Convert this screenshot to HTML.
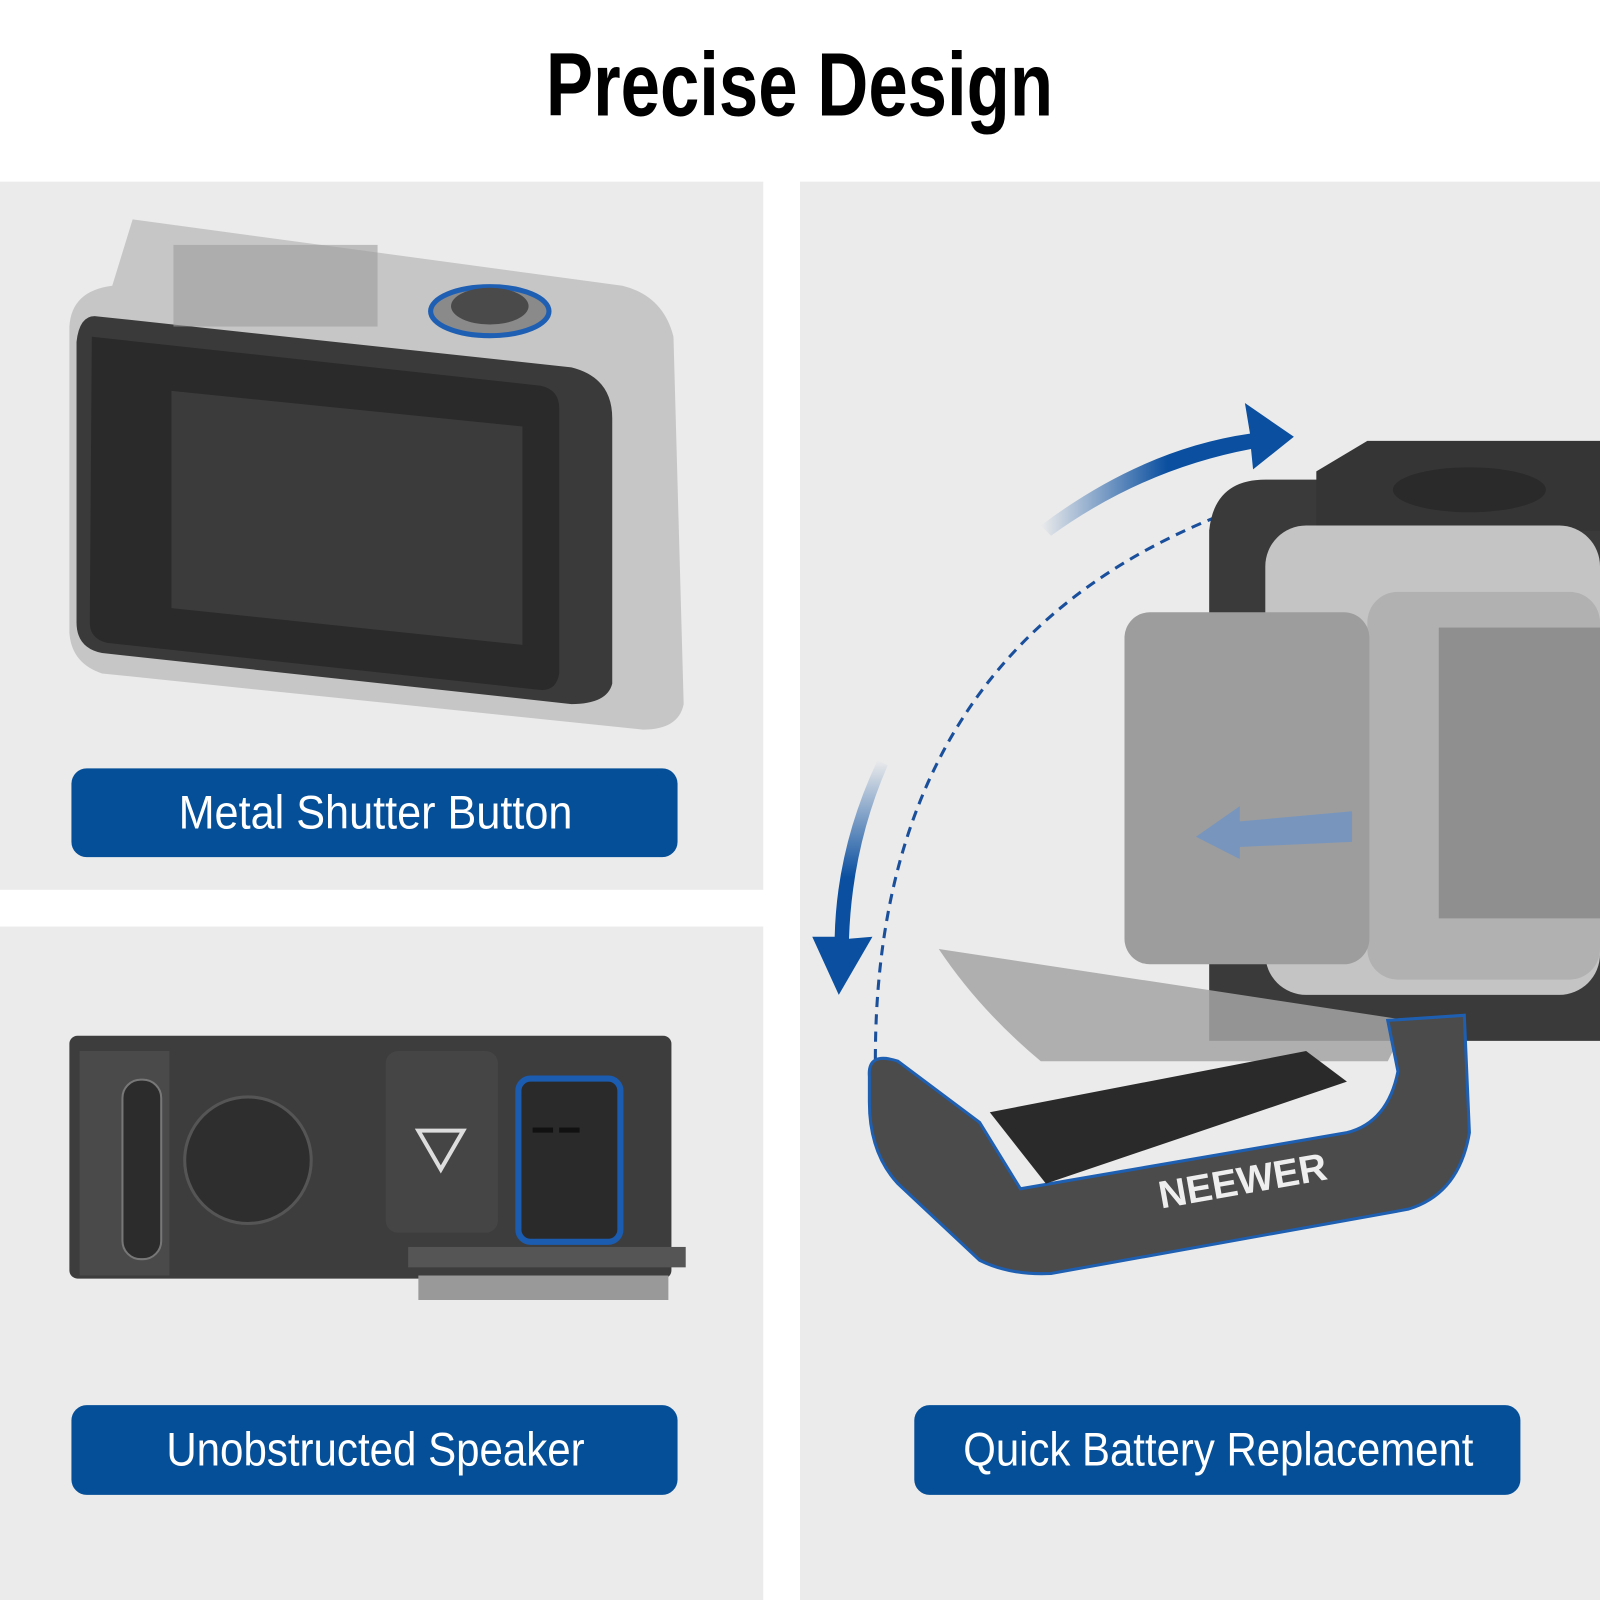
<!DOCTYPE html>
<html><head><meta charset="utf-8"><style>
html,body{margin:0;padding:0;background:#fff;}
svg{display:block;}
text{font-family:"Liberation Sans Narrow","Liberation Sans",sans-serif;}
</style></head><body>
<svg width="1600" height="1600" viewBox="0 0 1568 1568" xmlns="http://www.w3.org/2000/svg">
<defs>
<linearGradient id="ar" x1="0" y1="0" x2="1" y2="0"><stop offset="0" stop-color="#0a4fa0" stop-opacity="0"/><stop offset="0.5" stop-color="#0a4fa0"/></linearGradient>
<linearGradient id="ar2" x1="0" y1="0" x2="0" y2="1"><stop offset="0" stop-color="#0a4fa0" stop-opacity="0"/><stop offset="0.5" stop-color="#0a4fa0"/></linearGradient>
</defs>
<rect width="1568" height="1568" fill="#fff"/>
<text x="535" y="113" font-size="88" font-weight="bold" fill="#000" textLength="497" lengthAdjust="spacingAndGlyphs">Precise Design</text>
<rect x="0" y="178" width="748" height="694" fill="#ebebeb"/>
<rect x="0" y="908" width="748" height="660" fill="#ebebeb"/>
<rect x="784" y="178" width="784" height="1390" fill="#ebebeb"/>

<!-- top-left camera -->
<path d="M130 215 L610 280 Q650 290 660 330 L670 690 Q665 715 630 715 L100 660 Q70 650 68 620 L68 320 Q70 285 110 280 Z" fill="#bdbdbd" opacity="0.8"/>
<path d="M95 310 L560 360 Q600 370 600 410 L600 670 Q595 690 560 690 L100 640 Q75 635 75 610 L75 335 Q78 308 95 310 Z" fill="#3a3a3a"/>
<path d="M90 330 L530 378 Q548 382 548 400 L548 660 Q545 678 528 676 L105 630 Q88 626 88 610 Z" fill="#2a2a2a"/>
<path d="M168 383 L512 418 L512 632 L168 596 Z" fill="#3b3b3b"/>
<ellipse cx="480" cy="305" rx="58" ry="24" fill="#8a8a8a" stroke="#1f5fb3" stroke-width="5"/>
<ellipse cx="480" cy="300" rx="38" ry="18" fill="#4a4a4a"/>
<rect x="170" y="240" width="200" height="80" fill="#9d9d9d" opacity="0.6"/>

<rect x="70" y="753" width="594" height="87" rx="15" fill="#054f98"/>
<text x="175" y="812" font-size="46" fill="#fff" textLength="386" lengthAdjust="spacingAndGlyphs">Metal Shutter Button</text>

<!-- bottom-left camera -->
<rect x="68" y="1015" width="590" height="238" rx="8" fill="#3d3d3e"/>
<rect x="78" y="1030" width="88" height="220" fill="#4a4a4b"/>
<rect x="120" y="1058" width="38" height="176" rx="18" fill="#2c2c2c" stroke="#777" stroke-width="2"/>
<circle cx="243" cy="1137" r="62" fill="#2e2e2e" stroke="#555" stroke-width="3"/>
<rect x="378" y="1030" width="110" height="178" rx="12" fill="#454546"/>
<path d="M410 1108 L454 1108 L432 1146 Z" fill="none" stroke="#ddd" stroke-width="4"/>
<rect x="508" y="1057" width="100" height="160" rx="12" fill="#2a2a2a" stroke="#1b5cb0" stroke-width="6"/>
<rect x="522" y="1105" width="20" height="5" fill="#111"/><rect x="548" y="1105" width="20" height="5" fill="#111"/>
<rect x="400" y="1222" width="272" height="20" fill="#555"/>
<rect x="410" y="1250" width="245" height="24" fill="#999"/>

<rect x="70" y="1377" width="594" height="88" rx="15" fill="#054f98"/>
<text x="163" y="1436" font-size="46" fill="#fff" textLength="410" lengthAdjust="spacingAndGlyphs">Unobstructed Speaker</text>

<!-- right image -->
<path d="M1020 515 Q1120 440 1225 425 L1220 395 L1268 428 L1228 460 L1226 440 Q1120 460 1030 525 Z" fill="url(#ar)"/>
<path d="M870 750 Q835 830 832 920 L855 918 L822 975 L796 918 L818 918 Q820 830 860 745 Z" fill="url(#ar2)"/>
<path d="M858 1055 Q850 600 1270 480" fill="none" stroke="#1a4f9c" stroke-width="3" stroke-dasharray="10 7"/>
<path d="M1185 520 Q1190 470 1240 470 L1568 470 L1568 1020 L1185 1020 Z" fill="#3a3a3a"/>
<path d="M1290 462 L1340 432 L1568 432 L1568 520 L1290 520 Z" fill="#353535"/>
<ellipse cx="1440" cy="480" rx="75" ry="22" fill="#2a2a2a"/>
<rect x="1240" y="515" width="328" height="460" rx="40" fill="#c4c4c4"/>
<rect x="1340" y="580" width="228" height="380" rx="30" fill="#b1b1b1"/>
<rect x="1410" y="615" width="158" height="285" fill="#8f8f8f"/>
<rect x="1102" y="600" width="240" height="345" rx="25" fill="#9d9d9d"/>
<path d="M1172 820 L1215 790 L1215 805 L1325 795 L1325 825 L1215 830 L1215 842 Z" fill="#6f95c6" opacity="0.8"/>
<path d="M920 930 L1380 1000 L1360 1040 L1020 1040 Q960 990 920 930 Z" fill="#a5a5a5" opacity="0.85"/>
<path d="M852 1055 Q850 1030 880 1040 L960 1100 L1000 1165 L1320 1110 Q1360 1100 1370 1050 L1360 1000 L1435 995 L1440 1110 Q1430 1170 1380 1185 L1030 1248 Q990 1250 960 1235 L880 1160 Q852 1130 852 1080 Z" fill="#4b4b4c" stroke="#1e5fb2" stroke-width="3"/>
<path d="M970 1090 L1280 1030 L1320 1060 L1025 1160 Z" fill="#2a2a2a"/>
<text x="1220" y="1170" text-anchor="middle" font-size="38" font-weight="bold" fill="#eee" transform="rotate(-10 1220 1170)">NEEWER</text>

<rect x="896" y="1377" width="594" height="88" rx="15" fill="#054f98"/>
<text x="944" y="1436" font-size="46" fill="#fff" textLength="500" lengthAdjust="spacingAndGlyphs">Quick Battery Replacement</text>
</svg>
</body></html>
